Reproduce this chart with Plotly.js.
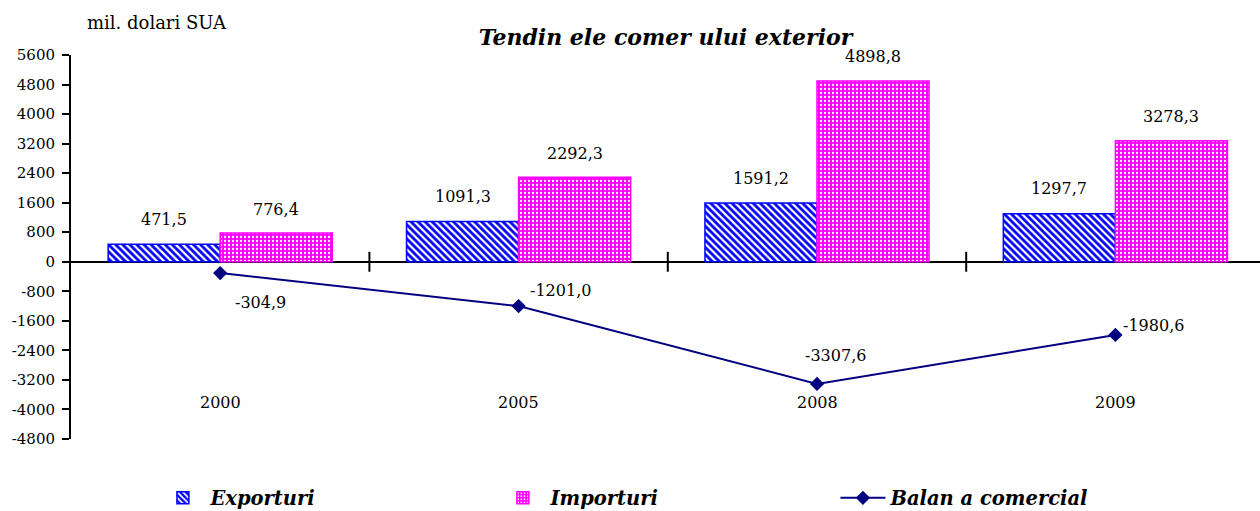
<!DOCTYPE html>
<html>
<head>
<meta charset="utf-8">
<script src="https://cdn.plot.ly/plotly-3.0.1.min.js"></script>
<style>
html,body{margin:0;padding:0;background:#fff;overflow:hidden;}
#chart{width:1260px;height:511px;}
</style>
</head>
<body>
<div id="chart"></div>
<script>
const years = ['2000', '2005', '2008', '2009'];
const exporturi = [471.5, 1091.3, 1591.2, 1297.7];
const importuri = [776.4, 2292.3, 4898.8, 3278.3];
const balanta = [-304.9, -1201.0, -3307.6, -1980.6];
const yTicks = [5600, 4800, 4000, 3200, 2400, 1600, 800, 0, -800, -1600, -2400, -3200, -4000, -4800];

const seriesNames = ['Exporturi', 'Importuri', 'Balan a comercial'];
const titleText = 'Tendin ele comer ului exterior';
const unitText = 'mil. dolari SUA';

// label offsets (pixels) for the balance labels
const balLabelShift = [[40, -29], [42, 16], [18, 28], [38, 9]];

const fontFam = '"DejaVu Serif", "Liberation Serif", serif';
const fmt = v => v.toFixed(1).replace('.', ',');

const xi = years.map((_, i) => i);

const traces = [
  {
    type: 'bar', name: seriesNames[0], x: xi, y: exporturi,
    marker: {
      color: '#0000FF',
      line: {color: '#0000FF', width: 1.5},
      pattern: {shape: '\\', fgcolor: '#FFFFFF', bgcolor: '#0000FF', size: 5, solidity: 0.45}
    },
    hoverinfo: 'skip'
  },
  {
    type: 'bar', name: seriesNames[1], x: xi, y: importuri,
    marker: {
      color: '#FF00FF',
      line: {color: '#FF00FF', width: 1.5},
      pattern: {shape: '.', fgcolor: '#FFFFFF', bgcolor: '#FF00FF', size: 4, solidity: 0.25}
    },
    hoverinfo: 'skip'
  },
  {
    type: 'scatter', mode: 'lines+markers', name: seriesNames[2], x: xi, y: balanta,
    line: {color: '#000080', width: 2},
    marker: {symbol: 'diamond', size: 11, color: '#000080'},
    hoverinfo: 'skip'
  }
];

const tickFont = {family: fontFam, size: 15, color: '#000'};
const lblFont = {family: fontFam, size: 16, color: '#000'};
const annotations = [];
const off = 0.1875;
years.forEach((yr, i) => {
  annotations.push({x: i - off, y: exporturi[i], text: fmt(exporturi[i]), showarrow: false,
    yshift: 25, font: lblFont});
  annotations.push({x: i + off, y: importuri[i], text: fmt(importuri[i]), showarrow: false,
    yshift: 24, font: lblFont});
  annotations.push({x: i, y: balanta[i], text: fmt(balanta[i]), showarrow: false,
    xshift: balLabelShift[i][0], yshift: balLabelShift[i][1], font: lblFont});
  annotations.push({x: i, y: -3820, text: yr, showarrow: false, font: lblFont});
});
annotations.push({xref: 'paper', yref: 'paper', x: (157 - 71) / 1189, y: 1, xanchor: 'center', yanchor: 'middle',
  text: unitText, showarrow: false, yshift: 33, font: {family: fontFam, size: 18, color: '#000'}});

const shapes = [];
for (let i = 0; i < years.length - 1; i++) {
  shapes.push({type: 'line', xref: 'x', yref: 'y', x0: i + 0.5, x1: i + 0.5, y0: -270, y1: 270,
    line: {color: '#000', width: 2}});
}

const layout = {
  width: 1260, height: 511,
  margin: {l: 71, r: 0, t: 55, b: 72, autoexpand: false},
  paper_bgcolor: '#fff', plot_bgcolor: '#fff',
  title: {text: '<b><i>' + titleText + '</i></b>', x: 0.5, xref: 'paper', y: 0.927, yanchor: 'middle',
    font: {family: fontFam, size: 22, color: '#000'}},
  barmode: 'group', bargap: 0.249, bargroupgap: 0,
  showlegend: true,
  legend: {orientation: 'h', x: 0.071, y: -0.154, xanchor: 'left', yanchor: 'middle',
    entrywidth: 280, entrywidthmode: 'pixels', itemwidth: 45,
    font: {family: fontFam, size: 19.5, color: '#000'}, traceorder: 'normal'},
  xaxis: {range: [-0.5, 3.4846], showgrid: false, zeroline: false, showline: false,
    showticklabels: false, ticks: '', fixedrange: true},
  yaxis: {range: [-4800, 5600], tickvals: yTicks, ticktext: yTicks.map(String),
    showgrid: false, zeroline: true, zerolinecolor: '#000', zerolinewidth: 2,
    showline: true, linecolor: '#000', linewidth: 2, ticks: 'outside', ticklen: 7, tickwidth: 2,
    tickcolor: '#000', ticklabelstandoff: 4,
    tickfont: tickFont, fixedrange: true},
  annotations: annotations,
  shapes: shapes
};

traces.forEach(t => { t.name = '<b><i>' + t.name + '</i></b>'; });

Plotly.newPlot('chart', traces, layout, {staticPlot: true, displayModeBar: false});
</script>
</body>
</html>
